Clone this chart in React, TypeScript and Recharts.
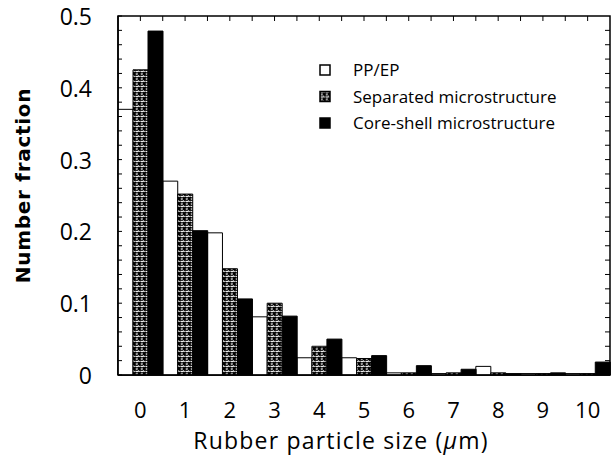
import React from 'react';
import { BarChart, Bar, XAxis, YAxis, Legend, ReferenceArea, ReferenceLine } from 'recharts';

// particle size bins (um)
const sizes = ['0', '1', '2', '3', '4', '5', '6', '7', '8', '9', '10'];
const ppep = [0.37, 0.27, 0.198, 0.081, 0.024, 0.024, 0.003, 0.002, 0.012, 0.002, 0.002];
const separated = [0.425, 0.252, 0.148, 0.1, 0.04, 0.023, 0.003, 0.003, 0.003, 0.002, 0.002];
const coreShell = [0.479, 0.201, 0.106, 0.082, 0.05, 0.027, 0.013, 0.008, 0.002, 0.003, 0.018];

const yTicks = [0, 0.1, 0.2, 0.3, 0.4, 0.5];
const yMinorTicks = Array.from({ length: 26 }, (_, i) => +(i * 0.02).toFixed(2));

const data = sizes.map((s, i) => ({
  size: s,
  ppep: ppep[i],
  separated: separated[i],
  coreShell: coreShell[i],
}));

const FONT = '"Open Sans", "Liberation Sans", sans-serif';

const LeftTick = (props: any) => {
  const { x, y, payload } = props;
  const v = payload.value;
  const major = yTicks.some((t) => Math.abs(t - v) < 1e-6);
  return (
    <g>
      <line x1={x} x2={x + 4} y1={y} y2={y} stroke="#000" strokeWidth={1} />
      {major && (
        <text x={x - 26} y={y} dy={9} textAnchor="end" fontSize={23} fontFamily={FONT} fill="#000">
          {v === 0 ? '0' : v.toFixed(1)}
        </text>
      )}
    </g>
  );
};

const BottomTick = (props: any) => {
  const { x, y, payload } = props;
  return (
    <text x={x} y={y} dy={43} textAnchor="middle" fontSize={22} fontFamily={FONT} fill="#000">
      {payload.value}
    </text>
  );
};

// short inward tick on the right frame edge
const RightTickShape = (p: any) => {
  const xr = Math.max(p.x1, p.x2);
  return <line x1={xr} x2={xr - 5} y1={p.y1} y2={p.y1} stroke="#000" strokeWidth={1} />;
};

// short inward tick on the top frame edge
const TopTickShape = (p: any) => {
  const yt = Math.min(p.y1, p.y2);
  return <line x1={p.x1} x2={p.x1} y1={yt} y2={yt + 5} stroke="#000" strokeWidth={1} />;
};

const legendItems = [
  { label: 'PP/EP', fill: '#fff' },
  { label: 'Separated microstructure', fill: 'url(#speckle)' },
  { label: 'Core-shell microstructure', fill: '#000' },
];

const LegendBox = () => (
  <svg width={260} height={80}>
    {legendItems.map((it, i) => (
      <g key={it.label} transform={`translate(0, ${i * 26.5})`}>
        <rect x={5} y={6} width={10} height={10} fill={it.fill} stroke="#000" strokeWidth={1.5} />
        <text x={38} y={17} fontSize={17} fontFamily={FONT} fill="#000">
          {it.label}
        </text>
      </g>
    ))}
  </svg>
);

export default function App() {
  return (
    <div style={{ position: 'absolute', left: 0, top: 0, background: '#fff' }}>
      <BarChart
        width={614}
        height={456}
        data={data}
        margin={{ top: 16, right: 4, bottom: 0, left: 0 }}
        barCategoryGap={0}
        barGap={0}
      >
        <defs>
          <pattern id="speckle" width="5" height="5" patternUnits="userSpaceOnUse">
            <rect width="5" height="5" fill="#000" />
            <path d="M0.6 0.8 q1.2 1.6 2.2 0.5 q0.9 -0.9 1.7 0.7 M0.8 3.6 q1 0.9 2 0" stroke="#fff" strokeWidth="1.2" fill="none" />
          </pattern>
        </defs>
        <XAxis
          dataKey="size"
          height={81}
          tickLine={false}
          tickSize={0}
          tickMargin={0}
          interval={0}
          axisLine={{ stroke: '#000', strokeWidth: 1.5 }}
          tick={<BottomTick />}
          label={{
            content: (p: any) => (
              <text
                x={p.viewBox.x + p.viewBox.width / 2 - 23}
                y={p.viewBox.y + 74}
                textAnchor="middle"
                fontSize={23}
                letterSpacing={1.2}
                fontFamily={FONT}
                fill="#000"
              >
                Rubber particle size (<tspan fontStyle="italic">μ</tspan>m)
              </text>
            ),
          }}
        />
        <YAxis
          domain={[0, 0.5]}
          ticks={yMinorTicks}
          interval={0}
          width={118}
          tickSize={0}
          tickMargin={0}
          tickLine={false}
          axisLine={{ stroke: '#000', strokeWidth: 1.5 }}
          tick={<LeftTick />}
          label={{
            content: (p: any) => {
              const cx = p.viewBox.x + 23;
              const cy = p.viewBox.y + p.viewBox.height / 2 - 10;
              return (
                <text
                  x={cx}
                  y={cy}
                  transform={`rotate(-90 ${cx} ${cy})`}
                  textAnchor="middle"
                  dominantBaseline="central"
                  fontSize={20}
                  fontWeight="bold"
                  letterSpacing={0.7}
                  fontFamily='"DejaVu Sans", sans-serif'
                  fill="#000"
                >
                  Number fraction
                </text>
              );
            },
          }}
        />
        <Legend
          layout="vertical"
          align="center"
          verticalAlign="middle"
          content={<LegendBox />}
          wrapperStyle={{ left: 315, top: 59, width: 260, height: 80 }}
        />
        <Bar dataKey="ppep" fill="#fff" stroke="#000" strokeWidth={1} isAnimationActive={false} />
        <Bar dataKey="separated" fill="url(#speckle)" stroke="#000" strokeWidth={1} isAnimationActive={false} />
        <Bar dataKey="coreShell" fill="#000" stroke="#000" strokeWidth={1} isAnimationActive={false} />
        <ReferenceArea y1={0} y2={0.5} fill="none" fillOpacity={0} stroke="#000" strokeWidth={1.5} ifOverflow="extendDomain" />
        {yMinorTicks.slice(1, -1).map((v) => (
          <ReferenceLine key={`r${v}`} y={v} shape={<RightTickShape />} />
        ))}
        {sizes.map((s) => (
          <ReferenceLine key={`tm${s}`} x={s} position="middle" shape={<TopTickShape />} />
        ))}
        {sizes.slice(1).map((s) => (
          <ReferenceLine key={`ts${s}`} x={s} position="start" shape={<TopTickShape />} />
        ))}
      </BarChart>
    </div>
  );
}
